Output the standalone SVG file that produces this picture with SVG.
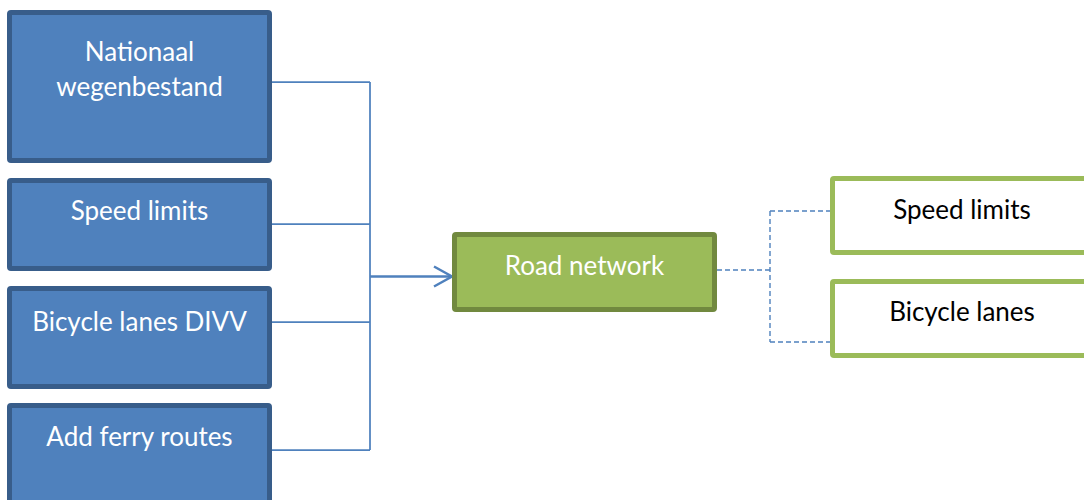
<svg xmlns="http://www.w3.org/2000/svg" width="1084" height="500" viewBox="0 0 1084 500">
  <style>
    .src rect { fill: #4F81BD; stroke: #385D8A; stroke-width: 5; }
    .hub rect { fill: #9BBB59; stroke: #71893F; stroke-width: 5; }
    .out rect { fill: #FFFFFF; stroke: #9BBB59; stroke-width: 5; }
    text { font-family: "Lato", "Liberation Sans", sans-serif; font-size: 26px; text-anchor: middle; }
    .src text, .hub text { fill: #FFFFFF; }
    .out text { fill: #000000; }
    .tree { fill: none; stroke: #4F81BD; stroke-width: 1.75; }
    .feed { fill: none; stroke: #4F81BD; stroke-width: 2.5; }
    .dash { fill: none; stroke: #4F81BD; stroke-width: 1.4; stroke-dasharray: 5 3; }
  </style>
  <defs>
    <marker id="open-arrow" markerUnits="userSpaceOnUse" markerWidth="24" markerHeight="24" refX="20" refY="12" orient="auto">
      <path d="M2,2 L20,12 L2,22" fill="none" stroke="#4F81BD" stroke-width="2.5"/>
    </marker>
  </defs>
  <rect width="1084" height="500" fill="#FFFFFF"/>

  <!-- connectors -->
  <g id="connectors">
    <path class="tree" d="M272,82 H370 M272,224 H370 M272,322 H370 M272,450 H370 M370,82 V450"/>
    <path class="feed" d="M370,276.5 H452" marker-end="url(#open-arrow)"/>
    <path class="dash" d="M717,270 H770 M770,211 V342 M770,211 H832 M770,342 H832"/>
  </g>

  <!-- source layers -->
  <g id="node-nwb" class="src">
    <rect x="9.5" y="12.5" width="260" height="148" rx="1.5"/>
    <text x="139.5" y="61">Nationaal</text>
    <text x="139.5" y="96">wegenbestand</text>
  </g>
  <g id="node-speed-src" class="src">
    <rect x="9.5" y="180.5" width="260" height="88" rx="1.5"/>
    <text x="139.5" y="219.5">Speed limits</text>
  </g>
  <g id="node-bicycle-src" class="src">
    <rect x="9.5" y="288.5" width="260" height="98" rx="1.5"/>
    <text x="139.5" y="330.5">Bicycle lanes DIVV</text>
  </g>
  <g id="node-ferry" class="src">
    <rect x="9.5" y="405.5" width="260" height="110" rx="1.5"/>
    <text x="139.5" y="445.5">Add ferry routes</text>
  </g>

  <!-- combined network -->
  <g id="node-road" class="hub">
    <rect x="454.5" y="234.5" width="260" height="75" rx="1.5"/>
    <text x="584.5" y="274.5">Road network</text>
  </g>

  <!-- derived layers -->
  <g id="node-speed-out" class="out">
    <rect x="832.5" y="178.5" width="260" height="74" rx="1.5"/>
    <text x="962" y="218.5">Speed limits</text>
  </g>
  <g id="node-bicycle-out" class="out">
    <rect x="832.5" y="281.5" width="260" height="74" rx="1.5"/>
    <text x="962" y="320.5">Bicycle lanes</text>
  </g>
</svg>
